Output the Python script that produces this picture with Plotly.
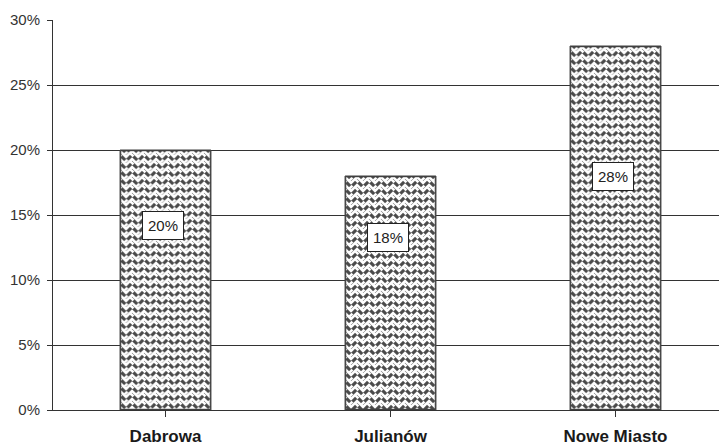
import base64
import plotly.graph_objects as go

# Share of respondents per district
districts = ["Dabrowa", "Julianów", "Nowe Miasto"]
shares = [0.20, 0.18, 0.28]
y_ticks = [0.00, 0.05, 0.10, 0.15, 0.20, 0.25, 0.30]

W, H = 719, 448
M_L, M_R, M_T, M_B = 53, 0, 20, 38
X_RANGE = [-0.5, 2.46]
Y_RANGE = [0, 0.30]
BAR_W = 0.404

plot_w = W - M_L - M_R
plot_h = H - M_T - M_B
px_per_x = plot_w / (X_RANGE[1] - X_RANGE[0])
px_per_y = plot_h / (Y_RANGE[1] - Y_RANGE[0])

WEAVE_TILE = """<pattern id='p' patternUnits='userSpaceOnUse' width='12' height='8'>
<rect width='12' height='8' fill='#4a4a4a'/>
<g fill='none' stroke='#ffffff' stroke-width='2.5' stroke-linecap='butt'>
<polyline points='-6,7 0,1 6,7 12,1 18,7'/>
<polyline points='-6,-1 0,-7 6,-1 12,-7 18,-1'/>
<polyline points='-6,15 0,9 6,15 12,9 18,15'/>
<line x1='4.6' y1='4.4' x2='7.4' y2='1.6'/>
<line x1='-1.4' y1='3.6' x2='1.4' y2='6.4'/>
<line x1='10.6' y1='3.6' x2='13.4' y2='6.4'/>
</g>
</pattern>"""


def weave_svg(w_px, h_px):
    """Woven hatch texture with a thin dark outline, sized in pixels."""
    svg = f"""<svg xmlns='http://www.w3.org/2000/svg' width='{w_px:.2f}' height='{h_px:.2f}' viewBox='0 0 {w_px:.2f} {h_px:.2f}' preserveAspectRatio='none'>
<defs>{WEAVE_TILE}</defs>
<rect x='0' y='0' width='{w_px:.2f}' height='{h_px:.2f}' fill='url(#p)'/>
<rect x='0.6' y='0.6' width='{w_px - 1.2:.2f}' height='{h_px - 1.2:.2f}' fill='none' stroke='#404040' stroke-width='1.2'/>
</svg>"""
    return "data:image/svg+xml;base64," + base64.b64encode(svg.encode()).decode()


fig = go.Figure()
fig.add_trace(go.Bar(
    x=list(range(len(districts))),
    y=shares,
    width=BAR_W,
    marker=dict(color="white", line=dict(color="#404040", width=1)),
    hoverinfo="skip",
))

images = []
annotations = []
for i, v in enumerate(shares):
    images.append(dict(
        source=weave_svg(BAR_W * px_per_x, v * px_per_y),
        xref="x", yref="y",
        x=i - BAR_W / 2, y=v,
        sizex=BAR_W, sizey=v,
        xanchor="left", yanchor="top",
        sizing="stretch", layer="above",
    ))
    annotations.append(dict(
        x=i - 0.012, y=v * 0.47 + 0.048,
        xref="x", yref="y",
        text=f"{v * 100:.0f}%",
        showarrow=False,
        font=dict(family="Liberation Sans, Arial, sans-serif", size=15, color="#222222"),
        bgcolor="white", bordercolor="#222222", borderwidth=1, borderpad=5,
    ))

fig.update_layout(
    width=W, height=H,
    margin=dict(l=M_L, r=M_R, t=M_T, b=M_B, pad=0, autoexpand=False),
    paper_bgcolor="white", plot_bgcolor="white",
    showlegend=False,
    images=images,
    annotations=annotations,
)
fig.update_xaxes(
    range=X_RANGE,
    automargin=False,
    tickmode="array",
    tickvals=list(range(len(districts))),
    ticktext=[f"<b>{d}</b>" for d in districts],
    tickson="boundaries",
    ticks="outside", ticklen=6, tickcolor="#333333", tickwidth=1,
    showline=True, linecolor="#333333", linewidth=1,
    showgrid=False,
    ticklabelstandoff=5,
    tickfont=dict(family="Liberation Sans, Arial, sans-serif", size=17, color="#1a1a1a"),
)
fig.update_yaxes(
    range=Y_RANGE,
    automargin=False,
    tickvals=y_ticks,
    tickformat=".0%",
    ticks="outside", ticklen=5, tickcolor="#333333", tickwidth=1,
    showline=True, linecolor="#333333", linewidth=1,
    showgrid=True, gridcolor="#333333", gridwidth=1,
    zeroline=False,
    ticklabelstandoff=4,
    tickfont=dict(family="Liberation Sans, Arial, sans-serif", size=15, color="#333333"),
)

fig.write_html("out.html")
